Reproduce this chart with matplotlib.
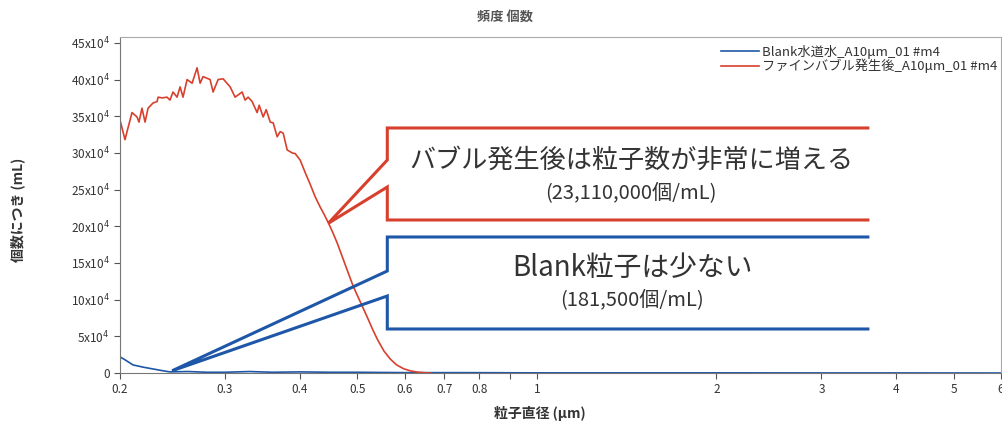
import numpy as np
import matplotlib
matplotlib.use("Agg")
import matplotlib.pyplot as plt
from matplotlib.ticker import FixedLocator, NullLocator

plt.rcParams['font.family'] = ['Noto Sans CJK JP', 'DejaVu Sans']

# particle diameter (um) / count per mL (x10^4)
bubble_x = [0.200, 0.2039, 0.2055, 0.2095, 0.2136, 0.2152, 0.2177, 0.2203, 0.2229,
            0.2272, 0.2308, 0.2317, 0.2353, 0.2398, 0.2426, 0.2454, 0.2493, 0.2522,
            0.2551, 0.2591, 0.2642, 0.2693, 0.2725, 0.2756, 0.2832, 0.2865, 0.2921,
            0.2978, 0.3060, 0.3119, 0.3205, 0.3242, 0.3280, 0.3331, 0.3396, 0.3423,
            0.3476, 0.3517, 0.3572, 0.3613, 0.3669, 0.3712, 0.3755, 0.3814, 0.3888,
            0.3934, 0.4011, 0.4089, 0.4169, 0.4250, 0.4333, 0.4400, 0.4469, 0.4545,
            0.4627, 0.4715, 0.4809, 0.4922, 0.5057, 0.5196, 0.5300, 0.5401, 0.5540,
            0.5678, 0.5820, 0.5971, 0.6130, 0.6303, 0.6470, 0.6628]
bubble_y = [34.5, 31.8, 32.9, 35.5, 34.9, 34.2, 36.1, 34.2, 36.1,
            36.8, 37.0, 37.6, 37.5, 37.6, 37.2, 38.3, 37.6, 39.0,
            37.6, 40.0, 39.5, 41.6, 39.5, 40.4, 40.0, 38.3, 40.0,
            40.1, 39.0, 37.6, 38.3, 37.2, 37.6, 37.0, 35.5, 36.5,
            34.9, 35.9, 34.2, 34.1, 32.2, 32.9, 32.7, 30.4, 30.0,
            29.9, 29.0, 27.3, 25.7, 24.0, 22.6, 21.6, 20.5, 19.2,
            17.7, 15.9, 14.0, 11.8, 9.7, 7.6, 6.0, 4.6, 3.0,
            1.9, 1.1, 0.6, 0.3, 0.12, 0.04, 0.0]

blank_x = [0.200, 0.2039, 0.2103, 0.2186, 0.2272, 0.2362, 0.2426, 0.26, 0.28,
           0.30, 0.33, 0.36, 0.40, 0.45, 0.50, 0.60, 0.75, 1.0, 1.5, 2.0, 3.0, 4.0, 6.0]
blank_y = [2.2, 1.8, 1.1, 0.8, 0.55, 0.3, 0.15, 0.2, 0.1,
           0.1, 0.2, 0.1, 0.15, 0.1, 0.1, 0.05, 0.05, 0.02, 0.02, 0.02, 0.01, 0.01, 0.0]

x_ticks = [0.2, 0.3, 0.4, 0.5, 0.6, 0.7, 0.8, 0.9, 1, 2, 3, 4, 5, 6]
x_labels = ["0.2", "0.3", "0.4", "0.5", "0.6", "0.7", "0.8", "", "1", "2", "3", "4", "5", "6"]
y_ticks = [0, 5, 10, 15, 20, 25, 30, 35, 40, 45]

red = "#d8402e"
blue = "#1f57a8"
text_col = "#333333"

fig = plt.figure(figsize=(10.03, 4.30), dpi=100)
ax = fig.add_axes([120 / 1003, 57 / 430, 881 / 1003, 336 / 430])

ax.plot(blank_x, blank_y, color=blue, lw=1.2, label="Blank水道水_A10μm_01 #m4")
ax.plot(bubble_x, bubble_y, color=red, lw=1.2, label="ファインバブル発生後_A10μm_01 #m4")

ax.set_xscale("log")
ax.set_xlim(0.2, 6)
ax.set_ylim(0, 45.8)
ax.xaxis.set_major_locator(FixedLocator(x_ticks))
ax.xaxis.set_minor_locator(NullLocator())
ax.set_xticklabels(x_labels)
ax.set_yticks(y_ticks)
ax.set_yticklabels(["0"] + [f"{v}x10$^4$" for v in y_ticks[1:]])
ax.tick_params(axis="both", labelsize=8.5, colors="#555555", labelcolor=text_col,
               length=4, width=0.8)
ax.tick_params(axis="x", pad=3)
for side in ["top", "right"]:
    ax.spines[side].set_color("#aaaaaa")
for side in ["left", "bottom"]:
    ax.spines[side].set_color("#777777")

fig.text(505 / 1003, 1 - 17 / 430, "頻度 個数", ha="center", va="center",
         fontsize=9.5, fontweight="bold", color="#555555")
fig.text(540 / 1003, 1 - 413 / 430, "粒子直径 (μm)", ha="center", va="center",
         fontsize=10, fontweight="bold", color=text_col)
fig.text(18 / 1003, 1 - 210 / 430, "個数につき (mL)", ha="center", va="center",
         rotation=90, fontsize=10, fontweight="bold", color=text_col)

leg = ax.legend(loc="upper right", bbox_to_anchor=(1.005, 1.0), frameon=False,
                fontsize=9.5, handlelength=2.9, handletextpad=0.2, labelspacing=0.0,
                borderaxespad=0.2, labelcolor=text_col)


def callout(tip, left, right, top, n1, n2, bottom, color):
    # tip in data coords, box in axes fraction
    tx, ty = ax.transAxes.inverted().transform(ax.transData.transform(tip))
    xs = [right, left, left, tx, left, left, right]
    ys = [top, top, n1, ty, n2, bottom, bottom]
    ax.plot(xs, ys, transform=ax.transAxes, color=color, lw=2.2,
            solid_joinstyle="miter", clip_on=False)


callout((0.4469, 20.4), 0.3034, 0.8489, 0.7292, 0.6339, 0.5536, 0.4554, red)
callout((0.2445, 0.3), 0.3034, 0.8489, 0.4048, 0.3036, 0.2292, 0.1310, blue)

fig.text(631 / 1003, 1 - 160 / 430, "バブル発生後は粒子数が非常に増える", ha="center",
         va="center", fontsize=18.8, color=text_col)
fig.text(631 / 1003, 1 - 193 / 430, "(23,110,000個/mL)", ha="center",
         va="center", fontsize=14.5, color=text_col)
fig.text(632 / 1003, 1 - 268 / 430, "Blank粒子は少ない", ha="center",
         va="center", fontsize=20, color=text_col)
fig.text(632 / 1003, 1 - 300 / 430, "(181,500個/mL)", ha="center",
         va="center", fontsize=14.5, color=text_col)

fig.savefig("out.png", dpi=100)
